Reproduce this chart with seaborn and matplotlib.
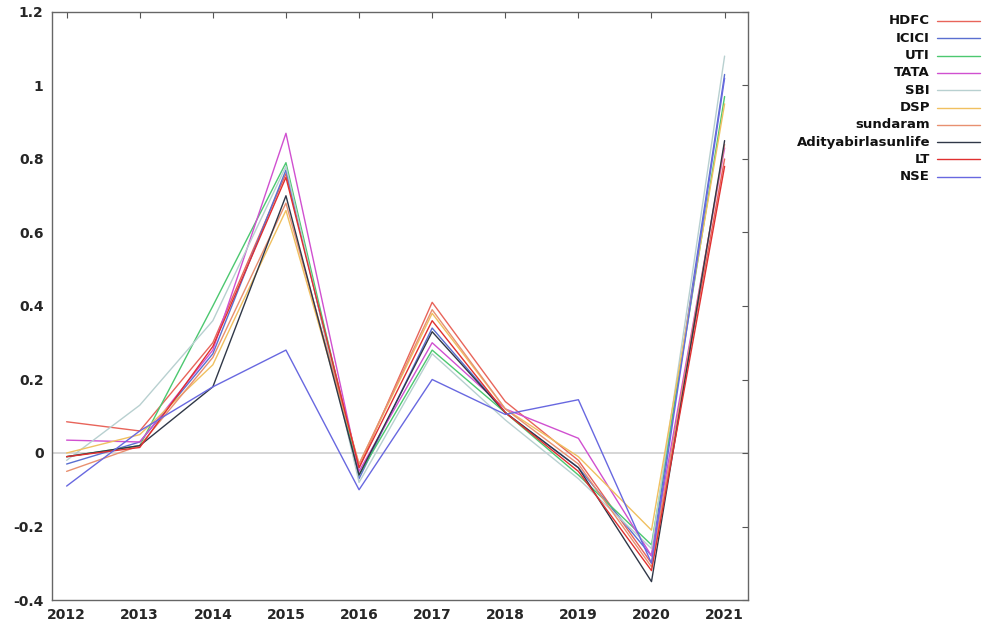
import matplotlib
matplotlib.use("Agg")
import matplotlib.pyplot as plt
import seaborn as sns
import pandas as pd
from matplotlib.lines import Line2D

years = [2012, 2013, 2014, 2015, 2016, 2017, 2018, 2019, 2020, 2021]
series_names = ["HDFC", "ICICI", "UTI", "TATA", "SBI", "DSP", "sundaram",
                "Adityabirlasunlife", "LT", "NSE"]

HDFC = [0.085, 0.06, 0.30, 0.76, -0.04, 0.41, 0.14, -0.02, -0.30, 0.80]
ICICI = [-0.03, 0.03, 0.27, 0.77, -0.07, 0.34, 0.11, -0.04, -0.28, 1.03]
UTI = [-0.01, 0.02, 0.40, 0.79, -0.06, 0.28, 0.11, -0.06, -0.25, 0.97]
TATA = [0.035, 0.03, 0.28, 0.87, -0.05, 0.30, 0.12, 0.04, -0.28, 0.83]
SBI = [-0.02, 0.13, 0.36, 0.78, -0.08, 0.27, 0.09, -0.07, -0.26, 1.08]
DSP = [0.00, 0.05, 0.24, 0.66, -0.03, 0.38, 0.12, -0.01, -0.21, 0.95]
sundaram = [-0.05, 0.02, 0.26, 0.68, -0.03, 0.39, 0.12, -0.03, -0.31, 0.84]
Adityabirlasunlife = [-0.01, 0.02, 0.18, 0.70, -0.06, 0.33, 0.11, -0.04, -0.35, 0.85]
LT = [-0.01, 0.015, 0.29, 0.75, -0.04, 0.36, 0.11, -0.05, -0.32, 0.78]
NSE = [-0.09, 0.06, 0.18, 0.28, -0.10, 0.20, 0.105, 0.145, -0.30, 1.02]

series_values = [HDFC, ICICI, UTI, TATA, SBI, DSP, sundaram, Adityabirlasunlife, LT, NSE]
y_ticks = [-0.4, -0.2, 0, 0.2, 0.4, 0.6, 0.8, 1, 1.2]
y_tick_labels = ["-0.4", "-0.2", "0", "0.2", "0.4", "0.6", "0.8", "1", "1.2"]

colors = ["#e8645a", "#5a6fd0", "#4cc870", "#d050d0", "#b8d0d0",
          "#f0c060", "#e89070", "#303848", "#e03030", "#6868e0"]

rows = []
for name, vals in zip(series_names, series_values):
    for yr, v in zip(years, vals):
        rows.append({"year": yr, "value": v, "fund": name})
df = pd.DataFrame(rows)

sns.set_style("white")
plt.rcParams['font.family'] = ['DejaVu Sans']

fig = plt.figure(figsize=(9.87, 6.31), dpi=100)
ax = fig.add_axes([52/987, 31/631, (748-52)/987, (600-12)/631])

ax.axhline(0, color="#d0d0d0", lw=1.2, zorder=0)
sns.lineplot(data=df, x="year", y="value", hue="fund", hue_order=series_names,
             palette=colors, linewidth=1.0, ax=ax, legend=False, sort=False)

ax.set_xlim(2011.8, 2021.32)
ax.set_ylim(-0.4, 1.2)
ax.set_xticks(years)
ax.set_xticklabels([str(y) for y in years], fontsize=10, fontweight="bold")
ax.set_yticks(y_ticks)
ax.set_yticklabels(y_tick_labels, fontsize=10, fontweight="bold")
ax.set_xlabel("")
ax.set_ylabel("")
ax.tick_params(direction="in", length=4, width=0.8, top=True, right=True,
               color="#555555", pad=6)
for s in ax.spines.values():
    s.set_visible(True)
    s.set_color("#666666")
    s.set_linewidth(1.0)

# manual legend (right-aligned labels, sample line to the right)
y0 = 631 - 21
dy = 17.3
for i, (name, c) in enumerate(zip(series_names, colors)):
    yy = (y0 - i * dy) / 631
    fig.text(930/987, yy, name, ha="right", va="center", fontsize=9.5,
             fontweight="bold", color="#111111")
    fig.add_artist(Line2D([937/987, 980/987], [yy, yy], color=c, lw=1.0))

fig.savefig("out.png", dpi=100)
